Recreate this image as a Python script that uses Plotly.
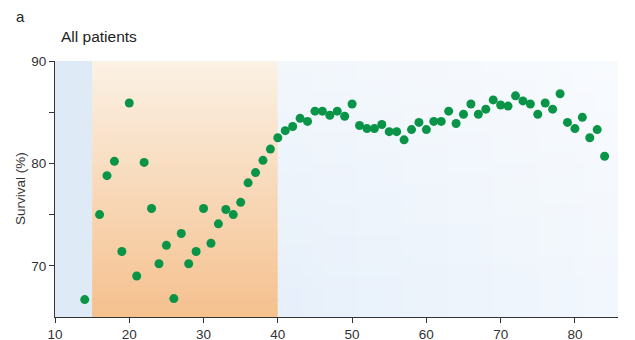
import plotly.graph_objects as go

ages = [14, 16, 17, 18, 19, 20, 21, 22, 23, 24, 25, 26, 27, 28, 29, 30, 31, 32, 33, 34,
        35, 36, 37, 38, 39, 40, 41, 42, 43, 44, 45, 46, 47, 48, 49, 50, 51, 52, 53, 54,
        55, 56, 57, 58, 59, 60, 61, 62, 63, 64, 65, 66, 67, 68, 69, 70, 71, 72, 73, 74,
        75, 76, 77, 78, 79, 80, 81, 82, 83, 84]
survival = [66.7, 75.0, 78.8, 80.2, 71.4, 85.9, 69.0, 80.1, 75.6, 70.2, 72.0, 66.8, 73.15, 70.2, 71.4, 75.6, 72.2, 74.1, 75.5, 75.0,
            76.2, 78.1, 79.1, 80.3, 81.4, 82.5, 83.2, 83.6, 84.4, 84.1, 85.1, 85.1, 84.7, 85.1, 84.6, 85.8, 83.7, 83.4, 83.4, 83.8,
            83.1, 83.1, 82.3, 83.3, 84.0, 83.3, 84.1, 84.1, 85.1, 83.9, 84.8, 85.8, 84.8, 85.3, 86.2, 85.7, 85.6, 86.6, 86.1, 85.8,
            84.8, 85.9, 85.3, 86.8, 84.0, 83.4, 84.5, 82.5, 83.3, 80.7]
x_ticks = [10, 20, 30, 40, 50, 60, 70, 80]
y_ticks = [70, 80, 90]
y_minor = [75, 85]
zones = [10, 15, 40, 85.8]
y_lo, y_hi = 65, 90

def lerp(c1, c2, t):
    return "rgb(%d,%d,%d)" % tuple(round(a + (b - a) * t) for a, b in zip(c1, c2))

shapes = []
# left blue zone
shapes.append(dict(type="rect", xref="x", yref="y", x0=zones[0], x1=zones[1], y0=y_lo, y1=y_hi,
                   fillcolor="rgb(222,235,247)", line=dict(width=0), layer="below"))
# orange zone, vertical gradient (strips overlap to avoid seams)
n = 40
top_o, bot_o = (251, 241, 228), (245, 193, 143)
h = (y_hi - y_lo) / n
for i in range(n):
    t = i / (n - 1)
    ya = y_hi - h * i
    yb = max(y_lo, ya - h * 1.6)
    shapes.append(dict(type="rect", xref="x", yref="y", x0=zones[1], x1=zones[2], y0=yb, y1=ya,
                       fillcolor=lerp(top_o, bot_o, t), line=dict(width=0), layer="below"))
# right light blue zone: horizontal gradient base
m = 30
left_b, right_b = (231, 240, 250), (242, 247, 253)
w = (zones[3] - zones[2]) / m
for i in range(m):
    t = i / (m - 1)
    xa = zones[2] + w * i
    xb = min(zones[3], xa + w * 1.6)
    shapes.append(dict(type="rect", xref="x", yref="y", x0=xa, x1=xb, y0=y_lo, y1=y_hi,
                       fillcolor=lerp(left_b, right_b, t), line=dict(width=0), layer="below"))
# white veil fading towards the bottom
k = 25
for i in range(k):
    t = i / (k - 1)
    ya = y_hi - h * 0 - (y_hi - y_lo) * i / k
    yb = y_hi - (y_hi - y_lo) * (i + 1) / k
    shapes.append(dict(type="rect", xref="x", yref="y", x0=zones[2], x1=zones[3], y0=yb, y1=ya,
                       fillcolor="white", opacity=0.45 * (1 - t), line=dict(width=0), layer="below"))

fig = go.Figure()
fig.add_trace(go.Scatter(x=ages, y=survival, mode="markers",
                         marker=dict(color="#0a9447", size=9, line=dict(width=0)),
                         showlegend=False, hoverinfo="x+y"))

font = "Liberation Sans, Arial, sans-serif"
fig.update_layout(
    width=635, height=340,
    margin=dict(l=55, r=17, t=61, b=23),
    paper_bgcolor="white", plot_bgcolor="white",
    shapes=shapes,
    font=dict(family=font, size=13, color="#333333"),
    xaxis=dict(range=[zones[0], zones[3]], tickmode="array", tickvals=x_ticks, automargin=False,
               ticks="outside", ticklen=5, tickwidth=1.2, tickcolor="#333",
               showline=True, linecolor="#333", linewidth=1.2, showgrid=False, zeroline=False,
               tickfont=dict(size=13.5, family=font, color="#333")),
    yaxis=dict(range=[y_lo, y_hi], tickmode="array", tickvals=y_ticks, automargin=False,
               ticks="outside", ticklen=5, tickwidth=1.2, tickcolor="#333",
               minor=dict(tickmode="array", tickvals=y_minor, ticks="outside", ticklen=5,
                          tickwidth=1.2, tickcolor="#333", showgrid=False),
               showline=True, linecolor="#333", linewidth=1.2, showgrid=False, zeroline=False,
               tickfont=dict(size=13.5, family=font, color="#333")),
    annotations=[
        dict(text="a", xref="paper", yref="paper", x=-0.072, y=1.172, xanchor="left", yanchor="middle",
             showarrow=False, font=dict(size=15, family=font, color="#222")),
        dict(text="All patients", xref="paper", yref="paper", x=0.007, y=1.094, xanchor="left", yanchor="middle",
             showarrow=False, font=dict(size=15.5, family=font, color="#222")),
        dict(text="Survival (%)", xref="paper", yref="paper", x=-0.062, y=0.5, xanchor="center", yanchor="middle",
             textangle=-90, showarrow=False, font=dict(size=13.5, family=font, color="#333")),
    ],
)

fig.write_html("out.html")
